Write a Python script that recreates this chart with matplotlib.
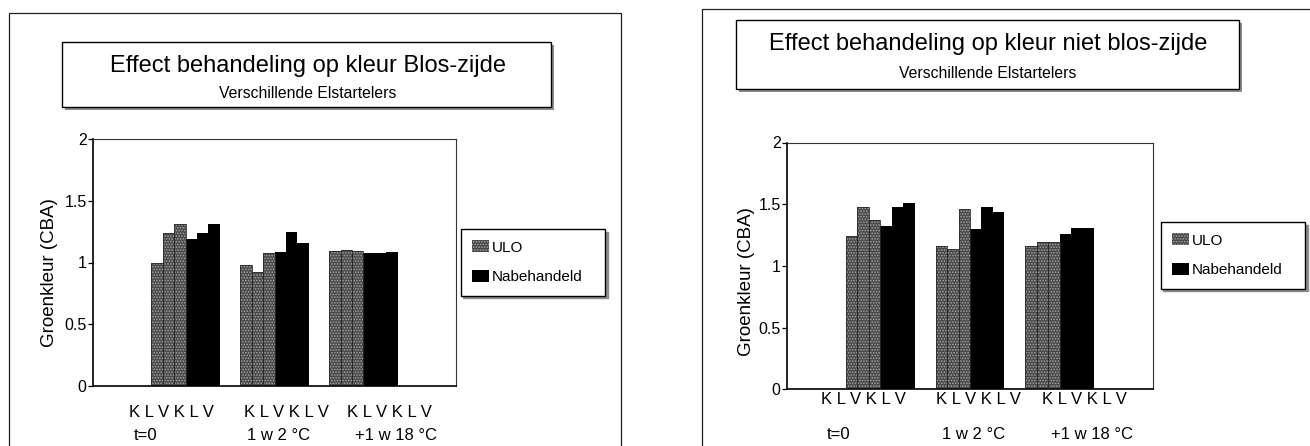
import matplotlib
matplotlib.use("Agg")
import matplotlib.pyplot as plt
from matplotlib.patches import Rectangle
from matplotlib.lines import Line2D
import numpy as np

plt.rcParams['font.family'] = ['Liberation Sans', 'DejaVu Sans']
plt.rcParams['hatch.linewidth'] = 0.8

# ---------------------------------------------------------------- data
groepen = ['t=0', '1 w 2 °C', '+1 w 18 °C']
rassen = ['K', 'L', 'V']
series = ['ULO', 'Nabehandeld']
yticks = [0, 0.5, 1, 1.5, 2]
ytick_labels = ['0', '0.5', '1', '1.5', '2']

titel_blos = 'Effect behandeling op kleur Blos-zijde'
titel_niet = 'Effect behandeling op kleur niet blos-zijde'
subtitel = 'Verschillende Elstartelers'
ylabel = 'Groenkleur (CBA)'

# Groenkleur per groep, per ras (K, L, V)
blos_ulo = [[1.00, 1.24, 1.31], [0.98, 0.92, 1.08], [1.09, 1.10, 1.09]]
blos_nab = [[1.19, 1.24, 1.31], [1.085, 1.245, 1.16], [1.075, 1.08, 1.085]]
niet_ulo = [[1.24, 1.48, 1.37], [1.16, 1.14, 1.46], [1.16, 1.19, 1.195]]
niet_nab = [[1.32, 1.48, 1.51], [1.30, 1.475, 1.44], [1.26, 1.305, 1.305]]

# ---------------------------------------------------------------- layout
W, H = 1310, 446
fig = plt.figure(figsize=(W / 100, H / 100), dpi=100)


def px(x0, y0, x1, y1):
    # pixel box -> figure fraction [left, bottom, width, height]
    return [x0 / W, 1 - y1 / H, (x1 - x0) / W, (y1 - y0) / H]


def frame_line(xs, ys):
    fig.add_artist(Line2D([x / W for x in xs], [1 - y / H for y in ys],
                          transform=fig.transFigure, color='#222222', lw=0.9))


def title_box(box, title, tx, ty, sy):
    l, b, w, h = px(*box)
    fig.add_artist(Rectangle((l + 2.5 / W, b - 2.5 / H), w, h, transform=fig.transFigure,
                             facecolor='#8c8c8c', edgecolor='none', zorder=1))
    fig.add_artist(Rectangle((l, b), w, h, transform=fig.transFigure,
                             facecolor='white', edgecolor='black', lw=1.0, zorder=2))
    fig.text(tx / W, 1 - ty / H, title, fontsize=17, ha='center', va='baseline', zorder=3)
    fig.text(tx / W, 1 - sy / H, subtitel, fontsize=11.3, ha='center', va='baseline', zorder=3)


# outer frames of the two chart sheets
frame_line([9, 9, 620.5, 620.5], [446, 12.7, 12.7, 446])
frame_line([702, 702, 1310], [446, 9, 9])

title_box((62, 42, 551, 107), titel_blos, 308, 72, 98)
title_box((736, 20, 1239, 89), titel_niet, 988, 50, 78)

w = 0.1275
xlim = (-1.04, 3.04)


def draw(ax, ulo, nab, klv_x, klv_y, grp_x, grp_y, lab_xy, leg_box):
    x = np.arange(len(groepen))
    handles = []
    for j in range(3):
        hb = ax.bar(x + (j - 2.5) * w, [g[j] for g in ulo], w, facecolor='#484848',
                    edgecolor='#a4a4a4', hatch='......', lw=0, zorder=2)
        ax.bar(x + (j - 2.5) * w, [g[j] for g in ulo], w, fill=False,
               edgecolor='#2a2a2a', lw=0.6, zorder=3)
        nb = ax.bar(x + (j + 0.5) * w, [g[j] for g in nab], w, color='black', lw=0, zorder=2)
        if j == 0:
            handles = [hb, nb]
    ax.set_xlim(*xlim)
    ax.set_ylim(0, 2)
    ax.set_xticks([])
    ax.set_yticks(yticks)
    ax.set_yticklabels(ytick_labels)
    ax.tick_params(axis='y', direction='out', length=3.5, width=0.9, pad=1, labelsize=11.5)
    for s in ['left', 'bottom']:
        ax.spines[s].set_linewidth(1.2)
    for s in ['top', 'right']:
        ax.spines[s].set_linewidth(0.8)
        ax.spines[s].set_color('#333333')
    ax.set_ylabel(ylabel, fontsize=13.5)
    ax.yaxis.set_label_coords(*lab_xy)
    ax.yaxis.label.set_va('center')

    trans = ax.get_xaxis_transform()
    for i, g in enumerate(groepen):
        ax.text(klv_x[i], klv_y, ' '.join(rassen + rassen),
                transform=trans, ha='center', va='center', fontsize=12)
        ax.text(grp_x[i], grp_y, g, transform=trans, ha='center', va='center', fontsize=12)

    l, b, lw_, lh = px(*leg_box)
    leg = fig.legend(handles, series, loc='upper left', bbox_to_anchor=(l, b, lw_, lh),
                     bbox_transform=fig.transFigure, mode='expand', borderaxespad=0,
                     fontsize=11, fancybox=False,
                     edgecolor='black', framealpha=1, handlelength=1.1, handleheight=0.8,
                     handletextpad=0.2, labelspacing=1.0, borderpad=0.75,
                     shadow={'color': '#8c8c8c', 'alpha': 1})
    leg.get_frame().set_linewidth(1.0)


ax1 = fig.add_axes(px(93, 139, 456, 386))
draw(ax1, blos_ulo, blos_nab,
     [-0.163, 1.129, 2.293], -0.109,
     [-0.45, 1.045, 2.366], -0.201,
     (-0.121, 0.46), (460.7, 229, 605, 298))

ax2 = fig.add_axes(px(787, 142.5, 1153, 389.3))
draw(ax2, niet_ulo, niet_nab,
     [-0.185, 1.091, 2.273], -0.043,
     [-0.468, 1.044, 2.356], -0.185,
     (-0.112, 0.437), (1160.7, 222, 1305, 285))

fig.savefig('out.png', dpi=100)
